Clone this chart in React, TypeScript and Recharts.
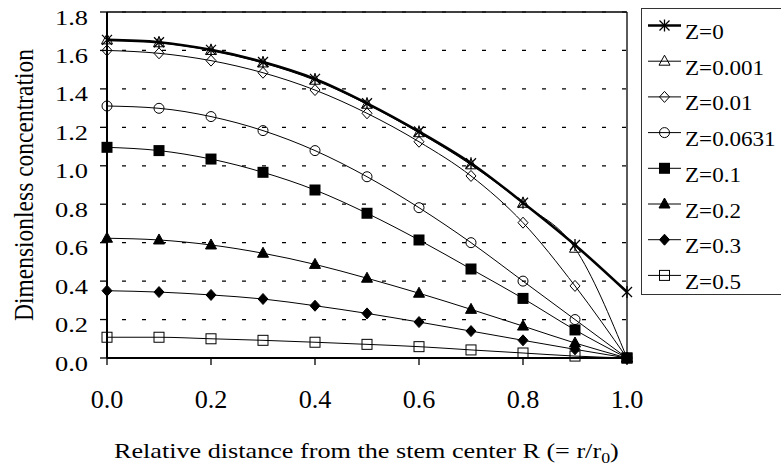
import React from 'react';
import { LineChart, Line, XAxis, YAxis, CartesianGrid, ReferenceLine, Legend } from 'recharts';

const R = [0, 0.1, 0.2, 0.3, 0.4, 0.5, 0.6, 0.7, 0.8, 0.9, 1.0];
const Z0 = [1.655, 1.643, 1.603, 1.54, 1.452, 1.325, 1.178, 1.013, 0.808, 0.588, 0.343];
const Z0001 = [1.655, 1.64, 1.6, 1.535, 1.445, 1.32, 1.172, 1.005, 0.805, 0.571, 0];
const Z001 = [1.6, 1.585, 1.547, 1.484, 1.394, 1.273, 1.125, 0.947, 0.704, 0.375, 0];
const Z00631 = [1.311, 1.299, 1.256, 1.183, 1.079, 0.943, 0.782, 0.6, 0.4, 0.2, 0];
const Z01 = [1.096, 1.079, 1.035, 0.966, 0.874, 0.753, 0.614, 0.463, 0.31, 0.146, 0];
const Z02 = [0.623, 0.614, 0.588, 0.545, 0.487, 0.415, 0.337, 0.253, 0.166, 0.078, 0];
const Z03 = [0.35, 0.343, 0.328, 0.307, 0.272, 0.232, 0.187, 0.14, 0.092, 0.045, 0];
const Z05 = [0.108, 0.108, 0.1, 0.092, 0.082, 0.071, 0.059, 0.042, 0.026, 0.01, 0];

const SERIES_NAMES = ['Z=0', 'Z=0.001', 'Z=0.01', 'Z=0.0631', 'Z=0.1', 'Z=0.2', 'Z=0.3', 'Z=0.5'];
const SERIES_VALUES = [Z0, Z0001, Z001, Z00631, Z01, Z02, Z03, Z05];
const SERIES_SHAPES = ['star', 'triOpen', 'diaOpen', 'circle', 'sqFill', 'triFill', 'diaFill', 'sqOpen'];
const SERIES_WIDTHS = [2.6, 1, 1, 1, 1, 1, 1, 1];

const X_TICKS = [0, 0.2, 0.4, 0.6, 0.8, 1.0];
const Y_TICKS = [0, 0.2, 0.4, 0.6, 0.8, 1.0, 1.2, 1.4, 1.6, 1.8];

const X_TITLE = 'Relative distance from the stem center R (= r/r';
const Y_TITLE = 'Dimensionless concentration';

const data = R.map((r, i) => {
  const row: any = { r };
  SERIES_VALUES.forEach((vals, k) => {
    row['s' + k] = vals[i];
  });
  return row;
});

const FONT = 'Liberation Serif';

function Mark({ shape, cx, cy }: { shape: string; cx: number; cy: number }) {
  switch (shape) {
    case 'star':
      return (
        <g stroke="#000" strokeWidth={1.3}>
          <line x1={cx - 5} y1={cy - 5} x2={cx + 5} y2={cy + 5} />
          <line x1={cx - 5} y1={cy + 5} x2={cx + 5} y2={cy - 5} />
          <line x1={cx} y1={cy - 6} x2={cx} y2={cy + 6} />
        </g>
      );
    case 'triOpen':
      return (
        <polygon
          points={`${cx},${cy - 6} ${cx + 5.5},${cy + 4} ${cx - 5.5},${cy + 4}`}
          fill="none"
          stroke="#000"
          strokeWidth={1}
        />
      );
    case 'diaOpen':
      return (
        <polygon
          points={`${cx},${cy - 5.5} ${cx + 5},${cy} ${cx},${cy + 5.5} ${cx - 5},${cy}`}
          fill="none"
          stroke="#000"
          strokeWidth={1}
        />
      );
    case 'circle':
      return <circle cx={cx} cy={cy} r={5} fill="none" stroke="#000" strokeWidth={1} />;
    case 'sqFill':
      return <rect x={cx - 5.5} y={cy - 5.5} width={11} height={11} fill="#000" />;
    case 'triFill':
      return (
        <polygon
          points={`${cx},${cy - 6} ${cx + 5.5},${cy + 4} ${cx - 5.5},${cy + 4}`}
          fill="#000"
          stroke="#000"
        />
      );
    case 'diaFill':
      return (
        <polygon
          points={`${cx},${cy - 5.5} ${cx + 5},${cy} ${cx},${cy + 5.5} ${cx - 5},${cy}`}
          fill="#000"
          stroke="#000"
        />
      );
    case 'sqOpen':
      return <rect x={cx - 5} y={cy - 5} width={10} height={10} fill="none" stroke="#000" strokeWidth={1} />;
    default:
      return null;
  }
}

const YTick = (props: any) => {
  const { x, y, payload } = props;
  return (
    <text
      transform={`translate(${x},${y + 12.5}) scale(1.2,1)`}
      textAnchor="end"
      style={{ fontFamily: FONT, fontSize: 22 }}
      fill="#000"
    >
      {Number(payload.value).toFixed(1)}
    </text>
  );
};

const XTick = (props: any) => {
  const { x, y, payload } = props;
  return (
    <text
      transform={`translate(${x},${y + 13}) scale(1.07,1)`}
      textAnchor="middle"
      style={{ fontFamily: FONT, fontSize: 24.5 }}
      fill="#000"
    >
      {Number(payload.value).toFixed(1)}
    </text>
  );
};

const XTitle = () => (
  <text
    transform="translate(114,458) scale(1.19,1)"
    textAnchor="start"
    style={{ fontFamily: FONT, fontSize: 22 }}
    fill="#000"
  >
    {X_TITLE}
    <tspan dy={5} style={{ fontSize: 15 }}>0</tspan>
    <tspan dy={-5}>)</tspan>
  </text>
);

const YTitle = () => (
  <text
    transform="translate(33,185) scale(1.2,1) rotate(-90)"
    textAnchor="middle"
    style={{ fontFamily: FONT, fontSize: 23.5 }}
    fill="#000"
  >
    {Y_TITLE}
  </text>
);

const LegendBox = () => {
  const rowH = 35.7;
  return (
    <svg width={140} height={290} style={{ display: 'block' }}>
      <rect x={0.5} y={0.5} width={200} height={286} fill="#fff" stroke="#333" strokeWidth={1} />
      {SERIES_NAMES.map((name, i) => {
        const cy = 17.5 + i * rowH;
        return (
          <g key={name}>
            <line x1={7} y1={cy} x2={40} y2={cy} stroke="#000" strokeWidth={SERIES_WIDTHS[i]} />
            <Mark shape={SERIES_SHAPES[i]} cx={23.5} cy={cy} />
            <text
              transform={`translate(44,${cy + 13.5}) scale(1.05,1)`}
              style={{ fontFamily: FONT, fontSize: 22 }}
              fill="#000"
            >
              {name}
            </text>
          </g>
        );
      })}
    </svg>
  );
};

export default function App() {
  return (
    <div style={{ position: 'absolute', left: 0, top: 0, width: 781, height: 468, background: '#fff' }}>
      <LineChart
        width={781}
        height={468}
        data={data}
        margin={{ top: 12, right: 154, bottom: 10, left: 7 }}
      >
        <CartesianGrid
          horizontal={true}
          vertical={false}
          stroke="#000"
          strokeDasharray="4 16"
          strokeDashoffset={-15}
          strokeWidth={1.2}
        />
        <XAxis
          dataKey="r"
          type="number"
          domain={[0, 1]}
          ticks={X_TICKS}
          height={100}
          tickSize={7}
          tickMargin={30}
          axisLine={{ stroke: '#000', strokeWidth: 2 }}
          tickLine={{ stroke: '#000', strokeWidth: 1.3 }}
          tick={XTick}
          interval={0}
          label={{ content: XTitle }}
        />
        <YAxis
          type="number"
          domain={[0, 1.8]}
          ticks={Y_TICKS}
          width={100}
          tickSize={7}
          tickMargin={12}
          axisLine={{ stroke: '#000', strokeWidth: 2 }}
          tickLine={{ stroke: '#000', strokeWidth: 1.3 }}
          tick={YTick}
          interval={0}
          label={{ content: YTitle }}
        />
        <ReferenceLine y={1.8} stroke="#000" strokeWidth={1.3} />
        <ReferenceLine x={1.0} stroke="#000" strokeWidth={1.3} />
        {SERIES_NAMES.map((name, k) => (
          <Line
            key={name}
            name={name}
            dataKey={'s' + k}
            type="monotone"
            stroke="#000"
            strokeWidth={SERIES_WIDTHS[k]}
            isAnimationActive={false}
            dot={(p: any) => (
              <Mark key={`${name}-${p.index}`} shape={SERIES_SHAPES[k]} cx={p.cx} cy={p.cy} />
            )}
            activeDot={false}
          />
        ))}
        <Legend
          layout="horizontal"
          verticalAlign="middle"
          align="center"
          content={LegendBox}
          wrapperStyle={{ position: 'absolute', left: 641, top: 8, width: 140, height: 290 }}
        />
      </LineChart>
    </div>
  );
}
